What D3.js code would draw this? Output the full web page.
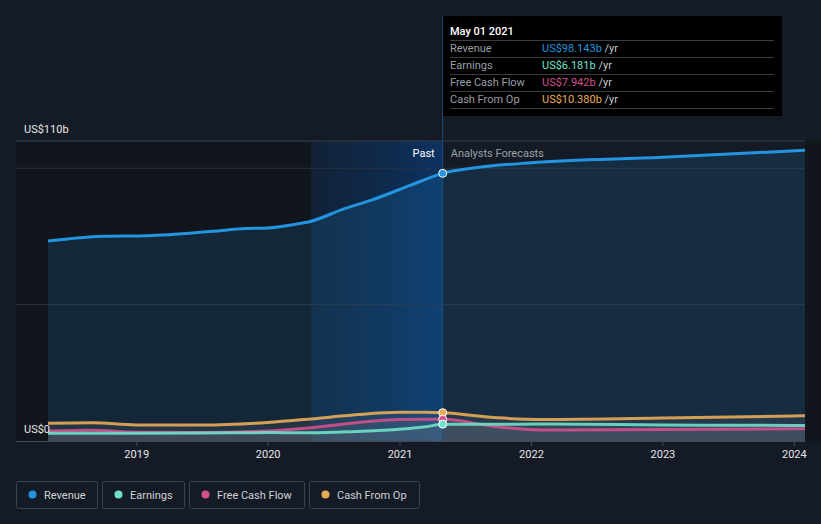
<!DOCTYPE html>
<html><head><meta charset="utf-8">
<script src="https://cdn.jsdelivr.net/npm/d3@7"></script>
<style>
html,body{margin:0;padding:0;background:#151b26;}
svg{display:block;font-family:Roboto,"Open Sans",sans-serif;}
</style></head>
<body><svg id="c" width="821" height="524"></svg>
<script>
const revenueDates = ["2018-05-01","2018-10-01","2019-02-01","2019-08-01","2019-11-01","2020-01-01","2020-03-15","2020-05-01","2020-08-01","2020-10-15","2021-02-01","2021-05-01","2021-08-01","2022-01-01","2023-01-01","2024-02-01"];
const revenueValues = [73.3,75.1,75.3,76.9,77.9,78.1,79.4,80.6,85.2,88.3,93.8,98.143,100.2,102.0,104.0,106.6];

const smallDates = ["2018-05-01","2018-09-01","2019-01-01","2019-07-01","2020-01-01","2020-05-01","2020-09-01","2021-01-01","2021-03-15","2021-05-01","2021-10-01","2022-02-01","2023-01-01","2024-01-01","2024-02-01"];
const earningsValues = [2.8,2.8,2.8,2.9,3.1,3.0,3.5,4.3,5.2,6.181,6.1,6.2,5.9,5.7,5.7];
const fcfValues      = [3.7,3.9,3.2,3.1,3.7,4.9,6.7,7.9,8.0,7.942,5.2,4.0,4.2,4.5,4.5];
const cfoValues      = [6.5,6.7,5.9,5.9,6.8,8.1,9.6,10.5,10.5,10.38,8.5,7.9,8.4,9.2,9.3];

const yearTicks = ["2019","2020","2021","2022","2023","2024"];
const yLabels = [{v:110,t:"US$110b"},{v:0,t:"US$0"}];
const gridValues = [50,100];
const seriesNames = ["Revenue","Earnings","Free Cash Flow","Cash From Op"];
const tooltipValues = ["US$98.143b","US$6.181b","US$7.942b","US$10.380b"];
const colors = ["#2394df","#6fe0c9","#d2508c","#e9ab58"];
const hoverDate = "2021-05-01";
const highlightStart = "2020-05-01";

const P = d3.timeParse("%Y-%m-%d");
const svg = d3.select("#c");
const x = d3.scaleTime().domain([P("2018-05-01"), P("2024-02-01")]).range([48, 805]);
const y = d3.scaleLinear().domain([0,110]).range([441,141]);
const L = 16, R = 805, T = 141, B = 441;
const hx = x(P(hoverDate)), sx = x(P(highlightStart));

const defs = svg.append("defs");
const g1 = defs.append("linearGradient").attr("id","hl").attr("x1","0").attr("x2","1").attr("y1","0").attr("y2","0");
g1.append("stop").attr("offset","0").attr("stop-color","#0d2a4c").attr("stop-opacity",0.45);
g1.append("stop").attr("offset","1").attr("stop-color","#0c3466").attr("stop-opacity",0.95);

svg.append("rect").attr("x",L).attr("y",T).attr("width",sx-L).attr("height",B-T).attr("fill","#11151c");
svg.append("rect").attr("x",R).attr("y",T).attr("width",821-R).attr("height",B-T).attr("fill","#11151c");
svg.append("rect").attr("x",sx).attr("y",T).attr("width",hx-sx).attr("height",B-T).attr("fill","url(#hl)");

svg.selectAll(".grid").data(gridValues).join("line")
  .attr("x1",L).attr("x2",R).attr("y1",d=>y(d)).attr("y2",d=>y(d))
  .attr("stroke","#2a313c").attr("stroke-width",1);
svg.append("line").attr("x1",L).attr("x2",R).attr("y1",T).attr("y2",T).attr("stroke","#3b414b");

const curve = d3.curveMonotoneX;
const rev = revenueDates.map((d,i)=>({d:P(d),v:revenueValues[i]}));
const mk = vals => smallDates.map((d,i)=>({d:P(d),v:vals[i]}));
const small = [mk(earningsValues), mk(fcfValues), mk(cfoValues)];

const area = d3.area().x(p=>x(p.d)).y0(B).y1(p=>y(p.v)).curve(curve);
const line = d3.line().x(p=>x(p.d)).y(p=>y(p.v)).curve(curve);

svg.append("path").datum(rev).attr("d",area).attr("fill","#2394df").attr("fill-opacity",0.15);
[2,1,0].forEach(i=>{
  svg.append("path").datum(small[i]).attr("d",area).attr("fill","#8a8f98").attr("fill-opacity",0.14);
});
svg.append("path").datum(rev).attr("d",line).attr("fill","none").attr("stroke",colors[0]).attr("stroke-width",3);
[2,1,0].forEach(i=>{
  svg.append("path").datum(small[i]).attr("d",line).attr("fill","none").attr("stroke",colors[i+1]).attr("stroke-width",3).attr("stroke-opacity",0.9);
});

svg.append("line").attr("x1",hx).attr("x2",hx).attr("y1",16).attr("y2",B).attr("stroke","#1e4d86").attr("stroke-width",1);

const dotVals = [revenueValues[11], cfoValues[9], fcfValues[9], earningsValues[9]];
const dotCols = [colors[0], colors[3], colors[2], colors[1]];
dotVals.forEach((v,i)=>{
  svg.append("circle").attr("cx",hx).attr("cy",y(v)).attr("r",4).attr("fill",dotCols[i]).attr("stroke","#ffffff").attr("stroke-width",1);
});

svg.append("line").attr("x1",L).attr("x2",R).attr("y1",B+0.5).attr("y2",B+0.5).attr("stroke","#444a54");
const xa = svg.append("g").attr("transform",`translate(0,${B})`)
  .call(d3.axisBottom(x).tickValues(yearTicks.map(t=>P(t+"-01-01"))).tickFormat(d3.timeFormat("%Y")).tickSize(5).tickPadding(4));
xa.select(".domain").remove();
xa.selectAll("line").attr("stroke","#444a54");
xa.selectAll("text").attr("fill","#e6e6e6").attr("font-size",11).attr("font-family","Roboto,sans-serif");

svg.selectAll(".yl").data(yLabels).join("text")
  .attr("x",24).attr("y",d=>y(d.v)-8).attr("fill","#e6e6e6").attr("font-size",11).text(d=>d.t);

svg.append("text").attr("x",hx-8).attr("y",157).attr("text-anchor","end").attr("fill","#ffffff").attr("font-size",11).text("Past");
svg.append("text").attr("x",hx+8).attr("y",157).attr("fill","#9aa0a8").attr("font-size",11).text("Analysts Forecasts");

const tt = svg.append("g").attr("transform","translate(443,16)");
tt.append("rect").attr("width",339).attr("height",100).attr("fill","#000000");
tt.append("text").attr("x",7).attr("y",19).attr("fill","#ffffff").attr("font-size",11).attr("font-weight",500).text("May 01 2021");
seriesNames.forEach((n,i)=>{
  const yy = 24 + i*17;
  tt.append("line").attr("x1",7).attr("x2",331).attr("y1",yy+0.5).attr("y2",yy+0.5).attr("stroke","#3a3d42");
  tt.append("text").attr("x",7).attr("y",yy+12).attr("fill","#9a9ea4").attr("font-size",11).text(n);
  const t = tt.append("text").attr("x",99).attr("y",yy+12).attr("font-size",11);
  t.append("tspan").attr("fill",colors[i]).text(tooltipValues[i]);
  t.append("tspan").attr("fill","#c8cacd").text(" /yr");
});
tt.append("line").attr("x1",7).attr("x2",331).attr("y1",92.5).attr("y2",92.5).attr("stroke","#3a3d42");

const lg = svg.append("g").attr("transform","translate(16,481)");
let lx = 0;
const widths = [81,82,115,110];
seriesNames.forEach((n,i)=>{
  const g = lg.append("g").attr("transform",`translate(${lx},0)`);
  g.append("rect").attr("x",0.5).attr("y",0.5).attr("width",widths[i]).attr("height",27).attr("rx",2).attr("fill","none").attr("stroke","#3c424c");
  g.append("circle").attr("cx",16.5).attr("cy",13.5).attr("r",4).attr("fill",colors[i]);
  g.append("text").attr("x",28).attr("y",17.5).attr("fill","#d0d2d5").attr("font-size",11).text(n);
  lx += widths[i] + 5;
});
</script></body></html>
